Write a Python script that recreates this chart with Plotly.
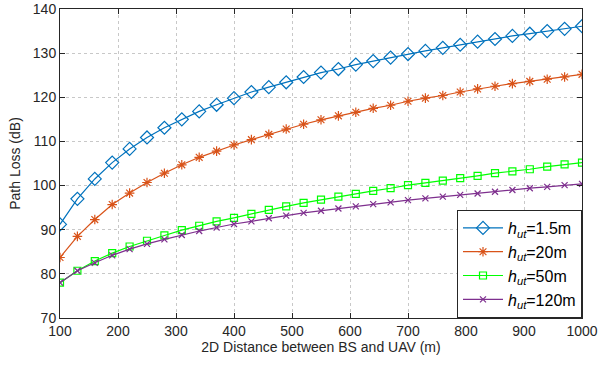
import plotly.graph_objects as go

distance = list(range(100, 1001, 30))

pl_h1_5 = [91.2, 97.0, 101.5, 105.2, 108.3, 110.9, 113.1, 115.0, 116.8, 118.3, 119.8,
           121.2, 122.3, 123.4, 124.6, 125.6, 126.4, 127.4, 128.2, 129.0, 129.8, 130.5,
           131.2, 131.9, 132.6, 133.2, 133.9, 134.4, 135.0, 135.5, 136.1]
pl_h20 = [83.7, 88.5, 92.3, 95.7, 98.3, 100.7, 102.8, 104.7, 106.4, 107.8, 109.2,
          110.4, 111.6, 112.8, 113.9, 114.9, 115.8, 116.6, 117.5, 118.2, 119.1, 119.8,
          120.4, 121.2, 121.9, 122.5, 123.1, 123.6, 124.1, 124.6, 125.2]
pl_h50 = [78.0, 80.7, 82.9, 84.7, 86.2, 87.5, 88.7, 89.9, 90.9, 91.9, 92.7,
          93.6, 94.5, 95.3, 96.1, 96.8, 97.5, 98.1, 98.8, 99.4, 100.1, 100.6,
          101.1, 101.7, 102.2, 102.8, 103.2, 103.7, 104.3, 104.8, 105.2]
pl_h120 = [78.0, 80.7, 82.5, 84.2, 85.6, 86.8, 87.8, 88.8, 89.7, 90.5, 91.3,
           91.9, 92.6, 93.2, 93.8, 94.3, 94.8, 95.3, 95.8, 96.2, 96.7, 97.1,
           97.5, 97.9, 98.2, 98.6, 99.0, 99.4, 99.7, 100.1, 100.4]

names = ["<i>h</i><sub><i>ut</i></sub>=1.5m", "<i>h</i><sub><i>ut</i></sub>=20m",
         "<i>h</i><sub><i>ut</i></sub>=50m", "<i>h</i><sub><i>ut</i></sub>=120m"]
x_ticks = list(range(100, 1001, 100))
y_ticks = list(range(70, 141, 10))

series = [
    (pl_h1_5, "#0072BD", "diamond-open", 10),
    (pl_h20, "#D95319", "asterisk-open", 8),
    (pl_h50, "#00FF00", "square-open", 7),
    (pl_h120, "#7E2F8E", "x-thin-open", 6),
]

fig = go.Figure()
for (vals, col, sym, sz), nm in zip(series, names):
    fig.add_trace(go.Scatter(
        x=distance, y=vals, name=nm, mode="lines+markers",
        line=dict(color=col, width=1.2),
        marker=dict(symbol=sym, size=sz, color=col, line=dict(color=col, width=1.2)),
    ))

FONT = "Liberation Sans, Arial, sans-serif"
axis_common = dict(
    showline=True, linecolor="#262626", linewidth=1, mirror="ticks",
    ticks="inside", ticklen=5, tickcolor="#262626",
    showgrid=True, gridcolor="#c8c8c8", griddash="dot", gridwidth=1,
    zeroline=False, automargin=False,
    tickfont=dict(family=FONT, size=14, color="#262626"),
)

fig.update_xaxes(range=[100, 1000], tickvals=x_ticks,
                 title=dict(text="2D Distance between BS and UAV (m)", standoff=0,
                            font=dict(family=FONT, size=14, color="#262626")),
                 **axis_common)
fig.update_yaxes(range=[70, 140], tickvals=y_ticks,
                 title=dict(text="Path Loss (dB)", standoff=8,
                            font=dict(family=FONT, size=14, color="#262626")),
                 **axis_common)

fig.update_layout(
    width=599, height=374,
    margin=dict(l=60, r=17, t=9, b=56, autoexpand=False),
    plot_bgcolor="white", paper_bgcolor="white",
    font=dict(family=FONT, size=14, color="#262626"),
    legend=dict(x=1, y=0, xanchor="right", yanchor="bottom",
                bgcolor="white", bordercolor="#262626", borderwidth=1,
                font=dict(family=FONT, size=16, color="#000000"), tracegroupgap=0,
                itemwidth=40),
    showlegend=True,
)

fig.write_html("out.html", config={"displayModeBar": False},
               post_script="document.body.style.margin='0';document.body.style.overflow='hidden';")
